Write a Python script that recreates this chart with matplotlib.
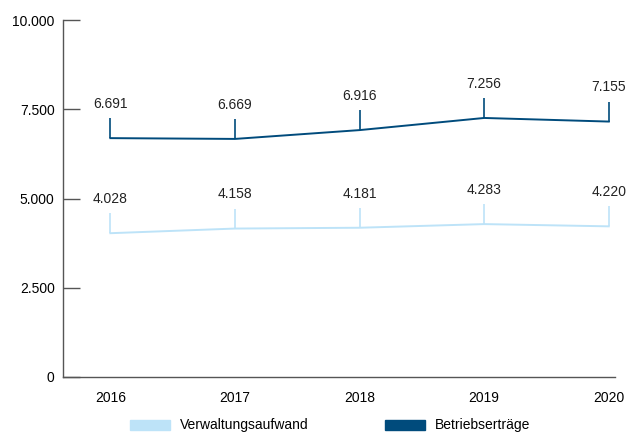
import matplotlib.pyplot as plt
from matplotlib.patches import Patch

plt.rcParams['font.family'] = ['Liberation Sans', 'DejaVu Sans']

years = [2016, 2017, 2018, 2019, 2020]
verwaltung = [4028, 4158, 4181, 4283, 4220]
betrieb = [6691, 6669, 6916, 7256, 7155]
yticks = [0, 2500, 5000, 7500, 10000]
yticklabels = ["0", "2.500", "5.000", "7.500", "10.000"]

dark = "#004b7c"
light = "#bde3f8"

fig = plt.figure(figsize=(6.35, 4.32), dpi=100)
ax = fig.add_axes([63/635, 55/432, 552/635, 357/432])

def fmt(v):
    return "{:,}".format(v).replace(",", ".")

for vals, col in [(verwaltung, light), (betrieb, dark)]:
    ax.plot(years, vals, color=col, lw=1.4, solid_joinstyle="miter")
    for x, v in zip(years, vals):
        ax.vlines(x, v, v + 560, color=col, lw=1.2)
        ax.text(x, v + 760, fmt(v), ha="center", va="bottom", fontsize=10, color="#222222")

ax.set_xlim(2015.62, 2020.05)
ax.set_ylim(0, 10000)
ax.set_yticks(yticks)
ax.set_yticklabels(yticklabels, fontsize=10)
ax.set_xticks(years)
ax.set_xticklabels([str(y) for y in years], fontsize=10)
ax.tick_params(axis="y", direction="in", length=12.5, width=1, color="#555555", pad=6)
ax.tick_params(axis="x", length=0, pad=10)
for s in ["top", "right"]:
    ax.spines[s].set_visible(False)
for s in ["left", "bottom"]:
    ax.spines[s].set_color("#555555")
    ax.spines[s].set_linewidth(1)

handles = [Patch(color=light, label="Verwaltungsaufwand"),
           Patch(color=dark, label="Betriebserträge")]
fig.legend(handles=handles, loc="lower center", bbox_to_anchor=(0.52, -0.03), ncol=2,
           frameon=False, fontsize=10, handlelength=2.9, handleheight=0.75,
           columnspacing=5.5, handletextpad=0.7)

fig.savefig("out.png", dpi=100)
